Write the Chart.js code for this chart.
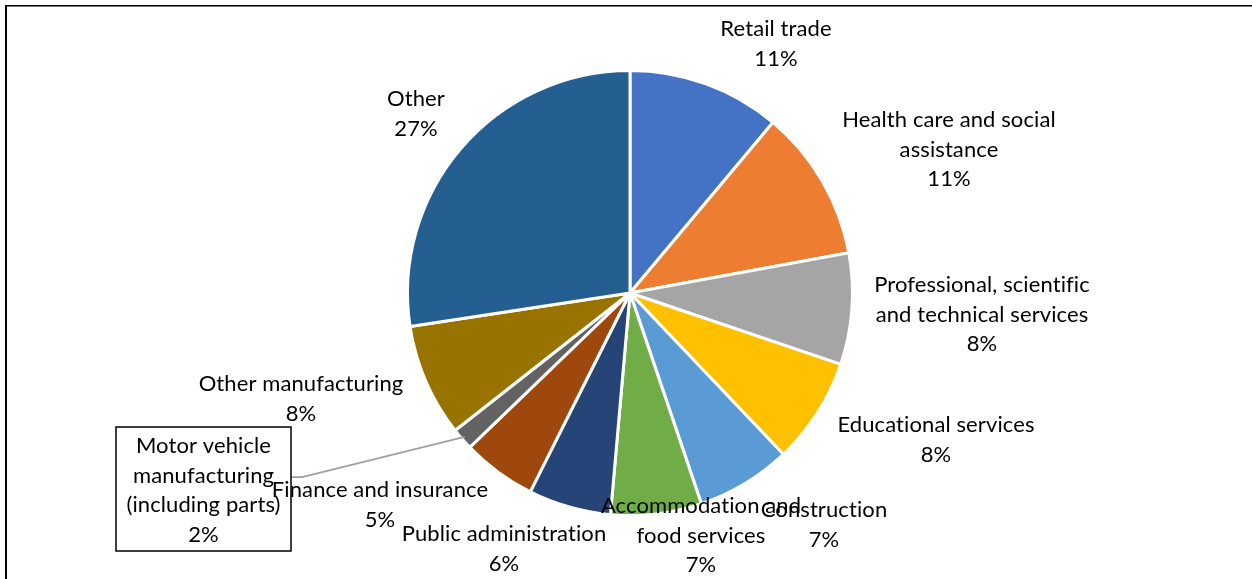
<!DOCTYPE html>
<html>
<head>
<meta charset="utf-8">
<script src="https://cdn.jsdelivr.net/npm/chart.js@4/dist/chart.umd.min.js"></script>
<style>
  html, body { margin: 0; padding: 0; background: #fff; }
  canvas { display: block; }
</style>
</head>
<body>
<canvas id="c" width="1252" height="579"></canvas>
<script>
// Share of employment by industry (%)
const categories = [
  'Retail trade',
  'Health care and social assistance',
  'Professional, scientific and technical services',
  'Educational services',
  'Construction',
  'Accommodation and food services',
  'Public administration',
  'Finance and insurance',
  'Motor vehicle manufacturing (including parts)',
  'Other manufacturing',
  'Other'
];
const shares = [11.1, 11.0, 8.1, 7.7, 6.9, 6.6, 6.0, 5.4, 1.6, 8.2, 27.4];

// How each category name is broken over lines in its label
const labelLines = [
  ['Retail trade'],
  ['Health care and social', 'assistance'],
  ['Professional, scientific', 'and technical services'],
  ['Educational services'],
  ['Construction'],
  ['Accommodation and', 'food services'],
  ['Public administration'],
  ['Finance and insurance'],
  ['Motor vehicle', 'manufacturing', '(including parts)'],
  ['Other manufacturing'],
  ['Other']
];

const sliceColors = [
  '#4472C4', '#ED7D31', '#A5A5A5', '#FFC000', '#5B9BD5', '#70AD47',
  '#264478', '#9E480E', '#636363', '#997300', '#255E91'
];

// Label anchor: text centre x and first baseline, relative to the pie centre
const labelPos = [
  [146, -257], [319, -166], [352, -1], [306, 139], [194, 224], [71, 220],
  [-126, 248], [-250, 204], [-426.5, 160], [-329, 98], [-214, -187]
];
const boxedLabel = 8;          // the small slice gets a framed label with a leader line
const LINE_H = 29.5;
const FONT = '22px Lato, "Open Sans", sans-serif';

const labelPlugin = {
  id: 'sliceLabels',
  afterDraw(chart) {
    const ctx = chart.ctx;
    const meta = chart.getDatasetMeta(0);
    const data = chart.data.datasets[0].data;
    const total = data.reduce((a, b) => a + b, 0);

    ctx.save();
    // frame
    ctx.fillStyle = '#000';
    ctx.fillRect(5, 5, 2, chart.height - 5);
    ctx.fillRect(5, 5, chart.width - 5, 1);
    ctx.fillStyle = '#777';
    ctx.fillRect(7, 6, chart.width - 7, 1);

    ctx.font = FONT;
    ctx.textAlign = 'center';
    ctx.textBaseline = 'alphabetic';
    // a hair of tracking keeps the face from joining "ti"/"fi" into ligatures
    if ('letterSpacing' in ctx) ctx.letterSpacing = '0.1px';

    meta.data.forEach((arc, i) => {
      const p = arc.getProps(['x', 'y', 'startAngle', 'endAngle', 'outerRadius'], true);
      const lx = p.x + labelPos[i][0];
      const ly = p.y + labelPos[i][1];
      const lines = labelLines[i].concat([Math.round(data[i] / total * 100) + '%']);

      if (i === boxedLabel) {
        const bw = 175, bh = 124;
        const left = lx - bw / 2, top = ly - 26;
        // leader line from the box to the slice edge
        const mid = (p.startAngle + p.endAngle) / 2;
        const ex = p.x + Math.cos(mid) * p.outerRadius * 0.985;
        const ey = p.y + Math.sin(mid) * p.outerRadius * 0.985;
        ctx.strokeStyle = '#A0A0A0';
        ctx.lineWidth = 1.75;
        ctx.beginPath();
        ctx.moveTo(left + bw, ly + 24);
        ctx.lineTo(left + bw + 11, ly + 24);
        ctx.lineTo(ex, ey);
        ctx.stroke();
        ctx.strokeStyle = '#000';
        ctx.lineWidth = 1.5;
        ctx.strokeRect(left, top, bw, bh);
      }

      ctx.fillStyle = '#000';
      lines.forEach((t, k) => ctx.fillText(t, lx, ly + k * LINE_H));
    });
    ctx.restore();
  }
};

new Chart(document.getElementById('c'), {
  type: 'pie',
  data: {
    labels: categories,
    datasets: [{
      data: shares,
      backgroundColor: sliceColors,
      borderColor: '#ffffff',
      borderWidth: 3,
      hoverOffset: 0
    }]
  },
  options: {
    responsive: false,
    animation: false,
    radius: 222.5,
    layout: { padding: { top: 71, bottom: 64, left: 408, right: 400 } },
    plugins: {
      legend: { display: false },
      tooltip: { enabled: false }
    }
  },
  plugins: [labelPlugin]
});
</script>
</body>
</html>
